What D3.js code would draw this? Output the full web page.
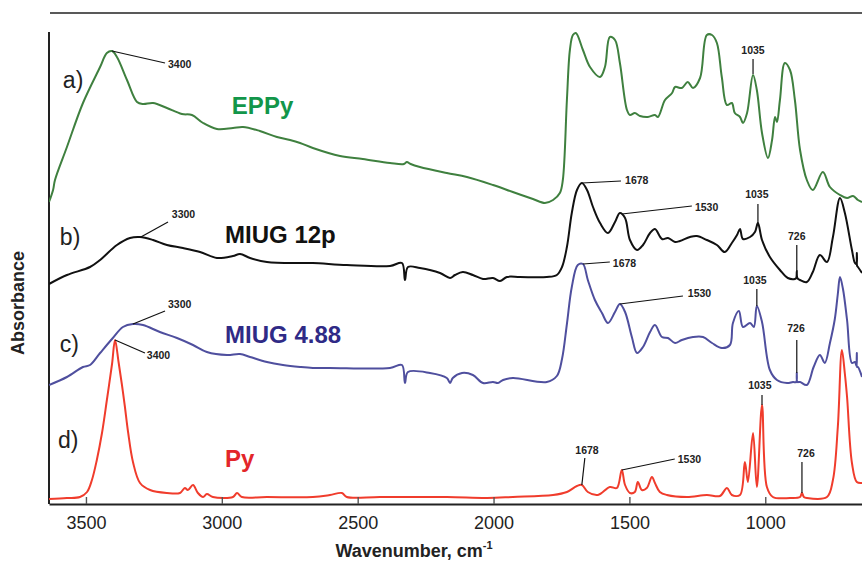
<!DOCTYPE html>
<html>
<head>
<meta charset="utf-8">
<script src="https://cdn.jsdelivr.net/npm/d3@7"></script>
<style>
  body { margin: 0; background: #ffffff; }
  svg { display: block; font-family: Arial, "Liberation Sans", sans-serif; }
</style>
</head>
<body>
<svg id="chart" width="862" height="562"></svg>
<script>
// FTIR spectra, offset vertically: [wavenumber (cm-1), absorbance (a.u.)]
const xTicks = [3500, 3000, 2500, 2000, 1500, 1000];

const eppy = [
  [3636,3.02],[3621,3.14],[3614,3.24],[3570,3.57],[3511,4.01],[3448,4.37],[3423,4.51],[3404,4.53],
  [3386,4.47],[3349,4.24],[3312,4.02],[3290,4.00],[3253,4.01],[3202,3.96],[3147,3.90],[3110,3.89],
  [3069,3.81],[3018,3.75],[2959,3.76],[2922,3.77],[2860,3.73],[2797,3.67],[2749,3.64],[2712,3.61],
  [2665,3.56],[2565,3.48],[2481,3.45],[2381,3.41],[2330,3.40],[2319,3.42],[2305,3.40],[2271,3.37],
  [2172,3.31],[2098,3.27],[2002,3.19],[1929,3.12],[1855,3.05],[1811,3.01],[1781,3.04],[1756,3.11],
  [1745,3.24],[1730,4.04],[1719,4.54],[1708,4.69],[1697,4.71],[1671,4.54],[1645,4.37],[1608,4.27],
  [1590,4.37],[1572,4.67],[1553,4.64],[1535,4.41],[1509,3.94],[1498,3.89],[1480,3.91],[1461,3.88],
  [1432,3.87],[1406,3.89],[1395,3.87],[1369,4.04],[1343,4.11],[1332,4.17],[1307,4.16],[1285,4.22],
  [1266,4.16],[1240,4.26],[1215,4.69],[1196,4.69],[1178,4.61],[1160,4.27],[1141,3.99],[1123,4.01],
  [1112,3.91],[1093,3.87],[1082,3.81],[1067,3.91],[1045,4.29],[1031,4.14],[1012,3.71],[990,3.46],
  [975,3.64],[964,3.87],[957,3.82],[946,4.04],[928,4.41],[909,4.34],[891,4.04],[872,3.54],
  [847,3.24],[825,3.14],[788,3.32],[762,3.17],[725,3.09],[699,3.06],[677,3.08],[659,3.04],[644,3.02]
];

const miug12p = [
  [3636,2.20],[3570,2.29],[3485,2.37],[3448,2.44],[3386,2.59],[3338,2.66],[3301,2.67],[3253,2.64],
  [3202,2.59],[3143,2.56],[3080,2.52],[3018,2.46],[2959,2.48],[2933,2.50],[2896,2.46],[2834,2.42],
  [2712,2.41],[2665,2.41],[2540,2.39],[2381,2.38],[2337,2.41],[2326,2.24],[2315,2.37],[2271,2.36],
  [2197,2.31],[2160,2.26],[2142,2.29],[2113,2.32],[2076,2.29],[2039,2.25],[2002,2.26],[1976,2.23],
  [1951,2.27],[1903,2.27],[1804,2.27],[1767,2.29],[1748,2.37],[1730,2.57],[1712,2.91],[1693,3.14],
  [1675,3.21],[1656,3.14],[1634,2.97],[1608,2.81],[1579,2.71],[1553,2.82],[1535,2.91],[1516,2.86],
  [1498,2.64],[1472,2.54],[1450,2.59],[1424,2.71],[1406,2.75],[1380,2.65],[1358,2.66],[1332,2.62],
  [1314,2.63],[1277,2.67],[1252,2.68],[1215,2.64],[1178,2.59],[1149,2.52],[1123,2.61],[1104,2.69],
  [1093,2.75],[1082,2.65],[1056,2.67],[1038,2.72],[1027,2.81],[1012,2.64],[983,2.47],[946,2.34],
  [917,2.26],[891,2.25],[886,2.26],[884,2.33],[882,2.26],[872,2.24],[847,2.22],[825,2.32],
  [799,2.49],[773,2.42],[751,2.67],[725,3.06],[707,2.91],[681,2.54],[670,2.41],[664,2.40],
  [663,2.51],[662,2.38],[659,2.37],[644,2.31]
];

const miug488 = [
  [3636,1.19],[3570,1.27],[3511,1.37],[3485,1.39],[3448,1.51],[3401,1.66],[3364,1.77],[3327,1.80],
  [3290,1.79],[3228,1.72],[3165,1.66],[3106,1.59],[3055,1.52],[2981,1.49],[2933,1.50],[2896,1.47],
  [2834,1.42],[2775,1.39],[2712,1.37],[2665,1.36],[2602,1.36],[2381,1.36],[2337,1.39],[2326,1.21],
  [2315,1.32],[2234,1.31],[2172,1.26],[2160,1.21],[2150,1.26],[2116,1.31],[2076,1.29],[2039,1.21],
  [2002,1.22],[1984,1.21],[1965,1.24],[1929,1.26],[1804,1.22],[1767,1.28],[1748,1.45],[1730,1.80],
  [1712,2.17],[1690,2.39],[1671,2.40],[1653,2.24],[1627,2.04],[1601,1.91],[1579,1.81],[1553,1.92],
  [1535,2.00],[1516,1.92],[1491,1.67],[1472,1.51],[1450,1.57],[1424,1.72],[1406,1.79],[1380,1.67],
  [1358,1.66],[1332,1.61],[1307,1.64],[1266,1.67],[1229,1.67],[1196,1.61],[1160,1.56],[1130,1.59],
  [1119,1.81],[1097,1.93],[1082,1.77],[1056,1.81],[1042,1.77],[1031,1.98],[1012,1.82],[983,1.34],
  [957,1.24],[920,1.21],[898,1.22],[886,1.22],[884,1.31],[882,1.22],[872,1.22],[847,1.19],
  [822,1.37],[799,1.49],[781,1.41],[762,1.61],[744,1.85],[733,2.10],[725,2.27],[714,2.15],
  [699,1.84],[681,1.41],[670,1.42],[664,1.38],[663,1.51],[662,1.37],[659,1.37],[644,1.27]
];

const py = [
  [3636,0.05],[3570,0.06],[3522,0.07],[3496,0.12],[3478,0.24],[3460,0.44],[3441,0.71],[3423,1.04],
  [3404,1.40],[3393,1.64],[3380,1.42],[3368,1.20],[3357,0.98],[3345,0.72],[3327,0.42],[3301,0.21],
  [3264,0.14],[3202,0.11],[3154,0.11],[3136,0.16],[3125,0.14],[3106,0.19],[3088,0.11],[3069,0.07],
  [3055,0.10],[3033,0.07],[2959,0.07],[2944,0.11],[2926,0.07],[2834,0.07],[2665,0.07],[2602,0.09],
  [2558,0.11],[2540,0.07],[2418,0.07],[2172,0.07],[2024,0.06],[1929,0.07],[1781,0.09],[1730,0.12],
  [1693,0.18],[1675,0.19],[1653,0.12],[1616,0.09],[1572,0.17],[1546,0.16],[1528,0.34],[1516,0.19],
  [1498,0.11],[1480,0.12],[1469,0.22],[1454,0.14],[1436,0.16],[1417,0.27],[1406,0.21],[1388,0.12],
  [1362,0.09],[1288,0.07],[1215,0.09],[1167,0.08],[1141,0.16],[1123,0.09],[1093,0.09],[1075,0.42],
  [1064,0.22],[1045,0.71],[1031,0.17],[1012,0.99],[994,0.17],[972,0.07],[909,0.06],[872,0.07],
  [865,0.11],[858,0.07],[847,0.06],[773,0.07],[751,0.24],[733,0.77],[718,1.54],[707,1.30],
  [699,1.07],[681,0.41],[663,0.22],[644,0.21]
];

// Trace letters and sample names
const traceNames   = ["EPPy", "MIUG 12p", "MIUG 4.88", "Py"];
const traceLetters = ["a)", "b)", "c)", "d)"];
const letterPos    = [[3585, 4.16], [3596, 2.59], [3596, 1.52], [3603, 0.56]];
const namePos      = [[2963, 3.90], [2988, 2.61], [2988, 1.61], [2988, 0.37]];

// Peak call-outs: text, peak point, end of leader, text point, text anchor
const peakLabels = [
  ["3400", [3404, 4.53], [3209, 4.41], [3198, 4.36], "start"],
  ["1035", [1045, 4.30], [1045, 4.45], [1045, 4.50], "middle"],
  ["3300", [3298, 2.67], [3198, 2.82], [3184, 2.86], "start"],
  ["1678", [1675, 3.21], [1531, 3.23], [1516, 3.20], "start"],
  ["1530", [1528, 2.90], [1270, 2.98], [1259, 2.93], "start"],
  ["1035", [1027, 2.81], [1027, 3.00], [1031, 3.06], "middle"],
  ["726",  [884, 2.33],  [884, 2.59],  [884, 2.64],  "middle"],
  ["3300", [3327, 1.80], [3209, 1.93], [3198, 1.96], "start"],
  ["3400", [3393, 1.64], [3283, 1.51], [3276, 1.45], "start"],
  ["1678", [1671, 2.40], [1572, 2.42], [1561, 2.37], "start"],
  ["1530", [1535, 2.00], [1303, 2.08], [1285, 2.07], "start"],
  ["1035", [1031, 1.98], [1031, 2.15], [1038, 2.20], "middle"],
  ["726",  [884, 1.31],  [884, 1.64],  [887, 1.72],  "middle"],
  ["1678", [1675, 0.19], [1664, 0.46], [1656, 0.50], "middle"],
  ["1530", [1528, 0.34], [1333, 0.45], [1322, 0.41], "start"],
  ["1035", [1012, 0.99], [1012, 1.09], [1020, 1.15], "middle"],
  ["726",  [865, 0.11],  [865, 0.42],  [850, 0.47],  "middle"]
];

const series = [eppy, miug12p, miug488, py];
const lineColors = ["#3f803f", "#111111", "#4f4f9e", "#f03c2c"];
const nameColors = ["#12964a", "#111111", "#2f2a86", "#e3262a"];

const svg = d3.select("#chart");
const plotL = 49, plotR = 862, plotT = 13, plotB = 504;

const x = d3.scaleLinear().domain([3636, 644]).range([plotL, plotR]);
const y = d3.scaleLinear().domain([0, 4.91]).range([plotB, plotT]);

svg.append("defs").append("clipPath").attr("id", "plotClip")
  .append("rect").attr("x", plotL).attr("y", plotT).attr("width", plotR - plotL).attr("height", plotB - plotT);

// frame: top rule and left axis
svg.append("line").attr("x1", plotL + 1).attr("x2", plotR).attr("y1", plotT).attr("y2", plotT)
  .attr("stroke", "#222").attr("stroke-width", 1.6);
svg.append("line").attr("x1", plotL).attr("x2", plotL).attr("y1", 32).attr("y2", plotB)
  .attr("stroke", "#222").attr("stroke-width", 2);

// spectra
const line = d3.line().x(d => x(d[0])).y(d => y(d[1])).curve(d3.curveCatmullRom.alpha(0.5));
svg.append("g").attr("clip-path", "url(#plotClip)")
  .selectAll("path").data(series).join("path")
  .attr("d", line)
  .attr("fill", "none")
  .attr("stroke", (d, i) => lineColors[i])
  .attr("stroke-width", 2)
  .attr("stroke-linejoin", "round");

// bottom axis with inward ticks
const xAxis = d3.axisBottom(x).tickValues(xTicks).tickFormat(d3.format("d"))
  .tickSizeInner(-7).tickSizeOuter(0).tickPadding(12);
const gx = svg.append("g").attr("transform", `translate(0,${plotB})`).call(xAxis);
gx.select(".domain").attr("stroke", "#222").attr("stroke-width", 2);
gx.selectAll(".tick line").attr("stroke", "#555").attr("stroke-width", 1.4);
gx.selectAll(".tick text").attr("font-size", 18).attr("fill", "#222")
  .attr("font-family", "Arial, 'Liberation Sans', sans-serif");

// axis titles
const xt = svg.append("text").attr("x", 414).attr("y", 557).attr("text-anchor", "middle")
  .attr("font-size", 18).attr("font-weight", "bold").attr("fill", "#222");
xt.append("tspan").text("Wavenumber, cm");
xt.append("tspan").attr("dy", -8).attr("font-size", 11).text("-1");

svg.append("text").attr("transform", "translate(24,303) rotate(-90)").attr("text-anchor", "middle")
  .attr("font-size", 18).attr("font-weight", "bold").attr("fill", "#222").text("Absorbance");

// peak call-outs
const ann = svg.append("g");
ann.selectAll("line").data(peakLabels).join("line")
  .attr("x1", d => x(d[1][0])).attr("y1", d => y(d[1][1]))
  .attr("x2", d => x(d[2][0])).attr("y2", d => y(d[2][1]))
  .attr("stroke", "#111").attr("stroke-width", 1.2);
ann.selectAll("text").data(peakLabels).join("text")
  .attr("x", d => x(d[3][0])).attr("y", d => y(d[3][1]))
  .attr("text-anchor", d => d[4])
  .attr("font-size", 10.5).attr("font-weight", "bold").attr("fill", "#222")
  .text(d => d[0]);

// trace letters and names
svg.append("g").selectAll("text").data(traceLetters).join("text")
  .attr("x", (d, i) => x(letterPos[i][0])).attr("y", (d, i) => y(letterPos[i][1]))
  .attr("font-size", 23).attr("fill", "#222").text(d => d);

svg.append("g").selectAll("text").data(traceNames).join("text")
  .attr("x", (d, i) => x(namePos[i][0])).attr("y", (d, i) => y(namePos[i][1]))
  .attr("font-size", 24).attr("font-weight", "bold")
  .attr("fill", (d, i) => nameColors[i]).text(d => d);
</script>
</body>
</html>
